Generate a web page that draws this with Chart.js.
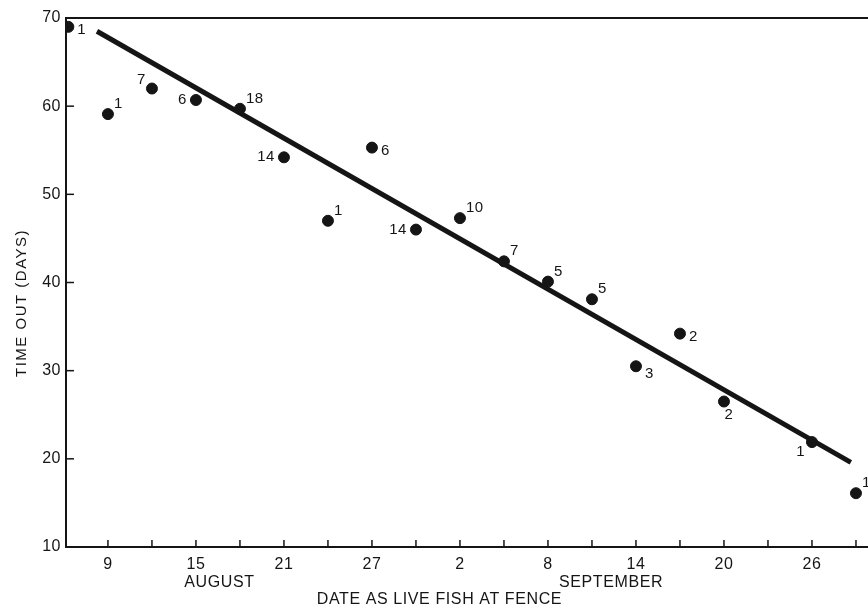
<!DOCTYPE html>
<html>
<head>
<meta charset="utf-8">
<script src="https://cdn.jsdelivr.net/npm/chart.js@4"></script>
<style>
  html, body { margin: 0; padding: 0; background: #fff; }
  #wrap { width: 868px; height: 609px; position: relative; }
</style>
</head>
<body>
<div id="wrap"><canvas id="chart"></canvas></div>
<script>
// ── Data (day numbers: Aug 1 = 1 … Aug 31 = 31, Sep 1 = 32) ─────
const sampleDays = [6.3, 9, 12, 15, 18, 21, 24, 27, 30, 33, 36, 39, 42, 45, 48, 51, 57, 60];
const timeOut    = [69.0, 59.1, 62.0, 60.7, 59.7, 54.2, 47.0, 55.3, 46.0, 47.3, 42.4, 40.1, 38.1, 30.5, 34.2, 26.5, 21.9, 16.1];
const fishCounts = [1, 1, 7, 6, 18, 14, 1, 6, 14, 10, 7, 5, 5, 3, 2, 2, 1, 1];

// fitted line at its two ends
const fitDays  = [8.25, 59.65];
const fitTimes = [68.5, 19.6];

const xTickDays   = [9, 12, 15, 18, 21, 24, 27, 30, 33, 36, 39, 42, 45, 48, 51, 54, 57, 60];
const xLabelDays  = [9, 15, 21, 27, 33, 39, 45, 51, 57];
const yTicks      = [10, 20, 30, 40, 50, 60, 70];
const monthNames  = ['AUGUST', 'SEPTEMBER'];
const monthCenter = [16.6, 43.3];

// where each count sits relative to its dot
const countPos = ['r', 'tr', 'tl', 'l', 'tr', 'l', 'tr', 'r', 'l', 'tr', 'tr', 'tr', 'tr', 'br', 'r', 'b', 'bl', 'tr'];

const INK = '#151515';
const FONT = '"Liberation Sans", Arial, sans-serif';

// ── Plugin: inward ticks, top frame line, annotations ─────────
const decor = {
  id: 'decor',
  beforeDraw(chart) {
    chart.ctx.letterSpacing = '0.5px';   // tick labels look a bit spread
  },
  afterDraw(chart) {
    const { ctx, chartArea: a, scales: { x, y } } = chart;
    ctx.save();
    ctx.strokeStyle = INK;
    ctx.fillStyle = INK;

    // top frame line
    ctx.lineWidth = 2;
    ctx.beginPath();
    ctx.moveTo(a.left, a.top);
    ctx.lineTo(a.right, a.top);
    ctx.stroke();

    // inward tick marks
    ctx.lineWidth = 1.5;
    xTickDays.forEach(d => {
      const px = x.getPixelForValue(d);
      ctx.beginPath();
      ctx.moveTo(px, a.bottom);
      ctx.lineTo(px, a.bottom - 7);
      ctx.stroke();
    });
    yTicks.forEach(v => {
      const py = y.getPixelForValue(v);
      ctx.beginPath();
      ctx.moveTo(a.left, py);
      ctx.lineTo(a.left + 8, py);
      ctx.stroke();
    });

    // count labels next to dots
    ctx.font = '15px ' + FONT;
    ctx.textBaseline = 'middle';
    const off = {
      r:  [9, 3, 'left'],
      l:  [-9, 0, 'right'],
      tr: [6, -10, 'left'],
      tl: [-6, -9, 'right'],
      br: [9, 8, 'left'],
      b:  [5, 13, 'center'],
      bl: [-7, 10, 'right'],
    };
    sampleDays.forEach((d, i) => {
      const px = x.getPixelForValue(d);
      const py = y.getPixelForValue(timeOut[i]);
      const [dx, dy, al] = off[countPos[i]];
      ctx.textAlign = al;
      ctx.fillText(String(fishCounts[i]), px + dx, py + dy);
    });

    // month names and axis titles
    ctx.font = '16px ' + FONT;
    ctx.textAlign = 'center';
    ctx.letterSpacing = '0.6px';
    monthNames.forEach((m, i) => {
      ctx.fillText(m, x.getPixelForValue(monthCenter[i]), 583);
    });
    ctx.fillText('DATE AS LIVE FISH AT FENCE', x.getPixelForValue(31.6), 600);

    ctx.font = '15px ' + FONT;
    ctx.translate(22, 303);
    ctx.rotate(-Math.PI / 2);
    ctx.letterSpacing = '1.5px';
    ctx.fillText('TIME OUT (DAYS)', 0, 0);
    ctx.restore();
  }
};

// ── Chart ──────────────────────────────────────────────────────
new Chart(document.getElementById('chart'), {
  type: 'scatter',
  data: {
    datasets: [
      {
        label: 'fit',
        type: 'line',
        data: fitDays.map((d, i) => ({ x: d, y: fitTimes[i] })),
        borderColor: INK,
        borderWidth: 5,
        pointRadius: 0,
        borderCapStyle: 'butt',
      },
      {
        label: 'samples',
        data: sampleDays.map((d, i) => ({ x: d, y: timeOut[i] })),
        backgroundColor: INK,
        borderColor: INK,
        pointRadius: 5.5,
        pointHoverRadius: 5.5,
      },
    ],
  },
  options: {
    responsive: true,
    maintainAspectRatio: false,
    animation: false,
    layout: { autoPadding: false, padding: { top: 18, right: 0, left: 0, bottom: 0 } },
    plugins: { legend: { display: false }, tooltip: { enabled: false } },
    scales: {
      x: {
        type: 'linear',
        min: 6.14,
        max: 60.82,
        afterBuildTicks: s => { s.ticks = xTickDays.map(v => ({ value: v })); },
        afterFit: s => { s.height = 62; s.paddingLeft = 0; s.paddingRight = 0; },
        grid: { display: false, drawTicks: false },
        border: { display: true, color: INK, width: 2 },
        ticks: {
          color: INK,
          padding: 8,
          autoSkip: false,
          maxRotation: 0,
          font: { family: 'Liberation Sans', size: 16 },
          callback: v => xLabelDays.includes(v) ? String(v > 31 ? v - 31 : v) : '',
        },
      },
      y: {
        min: 10,
        max: 70,
        afterBuildTicks: s => { s.ticks = yTicks.map(v => ({ value: v })); },
        afterFit: s => { s.width = 66; s.paddingTop = 0; s.paddingBottom = 0; },
        grid: { display: false, drawTicks: false },
        border: { display: true, color: INK, width: 2 },
        ticks: {
          color: INK,
          padding: 5,
          font: { family: 'Liberation Sans', size: 16 },
        },
      },
    },
  },
  plugins: [decor],
});
</script>
</body>
</html>
